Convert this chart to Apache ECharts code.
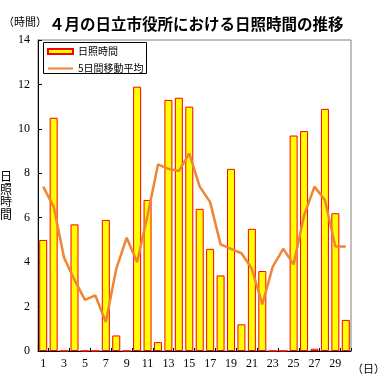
<!DOCTYPE html>
<html><head><meta charset="utf-8">
<script src="https://cdn.jsdelivr.net/npm/echarts@6/dist/echarts.min.js"></script>
<style>html,body{margin:0;padding:0;background:#fff}#c{width:388px;height:389px}</style>
</head><body><div id="c"></div>
<script>
var days = ['1','2','3','4','5','6','7','8','9','10','11','12','13','14','15','16','17','18','19','20','21','22','23','24','25','26','27','28','29','30'];
var sunshine = [5.0,10.5,0,5.7,0,0,5.9,0.7,0,11.9,6.8,0.4,11.3,11.4,11.0,6.4,4.6,3.4,8.2,1.2,5.5,3.6,0,0,9.7,9.9,0.1,10.9,6.2,1.4];
var movingAvg = [7.4,6.5,4.2,3.2,2.3,2.5,1.3,3.7,5.1,4.0,6.1,8.4,8.2,8.1,8.9,7.4,6.7,4.8,4.6,4.4,3.7,2.1,3.8,4.6,3.9,6.1,7.4,6.8,4.7,4.7];
var yTicks = [0,14,2];

var chart = echarts.init(document.getElementById('c'));
var serif = 'Liberation Serif';
var jp = 'Noto Sans CJK JP';
chart.setOption({
  animation:false,
  backgroundColor:'#fff',
  title:{text:'４月の日立市役所における日照時間の推移',left:44,top:11,
    textStyle:{fontFamily:jp,fontSize:15.5,fontWeight:'bold',color:'#000'}},
  grid:{left:38,right:37,top:40,bottom:38,show:true,borderColor:'#808080',borderWidth:1,backgroundColor:'transparent',
    containLabel:false,outerBoundsMode:'none'},
  legend:{left:47,top:46,orient:'vertical',itemWidth:25,itemHeight:5,itemGap:6,padding:0,
    textStyle:{fontFamily:jp,fontSize:10,color:'#000',lineHeight:11},
    data:[{name:'日照時間',icon:'rect'},{name:'5日間移動平均',itemStyle:{opacity:0}}]},
  graphic:[
    {type:'rect',shape:{x:43.5,y:42.5,width:103,height:31},style:{fill:null,stroke:'#000',lineWidth:1},z:-1},
    {type:'text',left:3,top:16,style:{text:'（時間）',font:'11px "Noto Sans CJK JP"',fill:'#000'}},
    {type:'text',left:352,top:363,style:{text:'（日）',font:'11px "Noto Sans CJK JP"',fill:'#000'}}
  ],
  xAxis:{type:'category',data:days,boundaryGap:true,
    axisLine:{show:true,lineStyle:{color:'#000',width:1}},
    axisTick:{show:true,inside:true,length:3,interval:function(i){return i%2===1;},lineStyle:{color:'#000'}},
    axisLabel:{interval:1,margin:7,fontFamily:serif,fontSize:12,color:'#000'},
    splitLine:{show:false}},
  yAxis:{type:'value',min:yTicks[0],max:yTicks[1],interval:yTicks[2],
    name:'日\n照\n時\n間',nameLocation:'middle',nameRotate:0,nameGap:26,
    nameTextStyle:{fontFamily:jp,fontSize:12,color:'#000',lineHeight:12.5,padding:[16,0,0,0]},
    axisLine:{show:true,lineStyle:{color:'#000',width:1}},
    axisTick:{show:true,inside:true,length:4,lineStyle:{color:'#000'}},
    axisLabel:{margin:8,fontFamily:serif,fontSize:12,color:'#000'},
    splitLine:{show:false}},
  series:[
    {name:'日照時間',type:'bar',data:sunshine,barWidth:8,
      itemStyle:{color:'#FFFF00',borderColor:'#FF0000',borderWidth:1}},
    {name:'5日間移動平均',type:'line',data:movingAvg,symbol:'none',z:5,
      lineStyle:{color:'#EF8535',width:2.5},itemStyle:{color:'#EF8535'}}
  ]
});
</script></body></html>
